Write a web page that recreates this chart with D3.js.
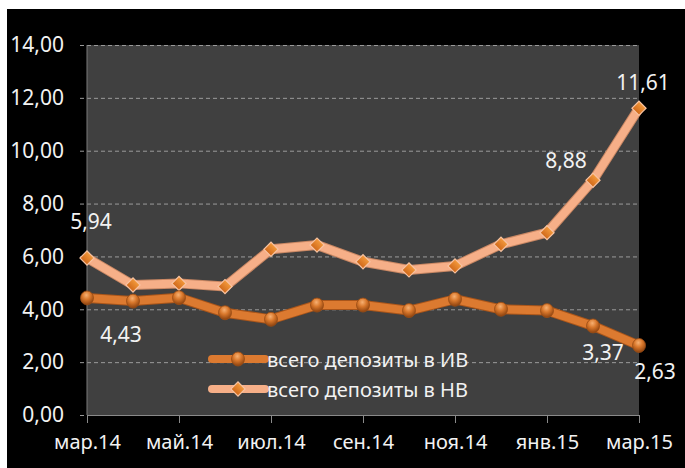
<!DOCTYPE html>
<html>
<head>
<meta charset="utf-8">
<script src="https://cdn.jsdelivr.net/npm/d3@7"></script>
<style>
  html, body { margin: 0; padding: 0; background: #fff; }
  svg { display: block; }
  text { font-family: 'Noto Sans', sans-serif; fill: #f2f2f2; }
</style>
</head>
<body>
<svg id="chart" width="685" height="468"></svg>
<script>
const months = ['мар.14', 'апр.14', 'май.14', 'июн.14', 'июл.14', 'авг.14', 'сен.14', 'окт.14', 'ноя.14', 'дек.14', 'янв.15', 'фев.15', 'мар.15']
const tickMonths = ['мар.14', 'май.14', 'июл.14', 'сен.14', 'ноя.14', 'янв.15', 'мар.15']
const yTicks = [0, 2, 4, 6, 8, 10, 12, 14]
const depositsIV = [4.43, 4.31, 4.44, 3.87, 3.62, 4.16, 4.16, 3.95, 4.38, 4.00, 3.95, 3.37, 2.63]
const depositsNV = [5.94, 4.92, 4.98, 4.86, 6.27, 6.43, 5.80, 5.49, 5.64, 6.46, 6.90, 8.88, 11.61]
const seriesNames = ['всего депозиты в ИВ', 'всего депозиты в НВ']
const labelledIndexes = [0, 11, 12]

const fmt = (v) => v.toFixed(2).replace('.', ',')

const svg = d3.select('#chart')
const plot = { left: 87, right: 639, top: 45, bottom: 415 }

// white strip top/left, black chart area
svg.append('rect').attr('x', 7).attr('y', 9).attr('width', 678).attr('height', 459).attr('fill', '#000')

const x = d3.scalePoint().domain(months).range([plot.left, plot.right])
const y = d3.scaleLinear().domain([0, 14]).range([plot.bottom, plot.top])

svg.append('rect')
  .attr('x', plot.left).attr('y', plot.top)
  .attr('width', plot.right - plot.left).attr('height', plot.bottom - plot.top)
  .attr('fill', '#404040')

// grid lines + y labels
const yG = svg.append('g')
  .attr('transform', `translate(${plot.left - 7},0)`)
  .call(d3.axisRight(y).tickValues(yTicks).tickSize(plot.right - plot.left + 7).tickFormat(fmt))
yG.select('.domain').remove()
yG.selectAll('line')
  .attr('stroke', '#9a9a9a')
  .attr('stroke-dasharray', '4,3')
  .attr('stroke-width', 1)
yG.selectAll('text')
  .attr('x', -16)
  .attr('text-anchor', 'end')
  .attr('font-size', 21)
  .attr('fill', '#f2f2f2')

// y axis line
svg.append('line')
  .attr('x1', plot.left).attr('x2', plot.left)
  .attr('y1', plot.top).attr('y2', plot.bottom)
  .attr('stroke', '#7a7a7a')

// x axis
const xG = svg.append('g')
  .attr('transform', `translate(0,${plot.bottom})`)
  .call(d3.axisBottom(x).tickValues(tickMonths).tickSize(8).tickPadding(12))
xG.select('.domain').attr('stroke', '#8a8a8a').attr('d', `M${plot.left},0.5H${plot.right}`)
xG.selectAll('line').attr('stroke', '#8a8a8a')
xG.selectAll('text').attr('font-size', 20).attr('fill', '#f2f2f2')

// gradients for markers
const defs = svg.append('defs')
const ball = defs.append('radialGradient').attr('id', 'ball')
  .attr('cx', '45%').attr('cy', '30%').attr('r', '70%')
ball.append('stop').attr('offset', '0%').attr('stop-color', '#f6b072')
ball.append('stop').attr('offset', '45%').attr('stop-color', '#d9782c')
ball.append('stop').attr('offset', '100%').attr('stop-color', '#8c420f')

const diamond = defs.append('linearGradient').attr('id', 'diamond')
  .attr('x1', '0').attr('y1', '0').attr('x2', '0').attr('y2', '1')
diamond.append('stop').attr('offset', '0%').attr('stop-color', '#f39a3c')
diamond.append('stop').attr('offset', '100%').attr('stop-color', '#d0681a')

const series = [
  { name: seriesNames[0], values: depositsIV, color: '#dc7a30', edge: '#a9551a', marker: 'circle' },
  { name: seriesNames[1], values: depositsNV, color: '#f6af88', edge: '#c98763', marker: 'diamond' }
]

const line = d3.line()
  .x((d, i) => x(months[i]))
  .y((d) => y(d))

function drawMarker (g, type) {
  if (type === 'circle') {
    g.append('ellipse').attr('rx', 6.5).attr('ry', 7)
      .attr('fill', 'url(#ball)')
      .attr('stroke', '#9b4c14').attr('stroke-width', 0.8)
  } else {
    g.append('path')
      .attr('d', d3.symbol(d3.symbolSquare, 100)())
      .attr('transform', 'rotate(45)')
      .attr('fill', 'url(#diamond)')
      .attr('stroke', '#f7c3a2').attr('stroke-width', 1.2)
  }
}

series.slice().reverse().forEach((s) => {
  svg.append('path')
    .datum(s.values)
    .attr('d', line)
    .attr('fill', 'none')
    .attr('stroke', s.edge)
    .attr('stroke-width', 10)
    .attr('stroke-linejoin', 'round')
  svg.append('path')
    .datum(s.values)
    .attr('d', line)
    .attr('fill', 'none')
    .attr('stroke', s.color)
    .attr('stroke-width', 8)
    .attr('stroke-linejoin', 'round')

  svg.append('g').selectAll('g')
    .data(s.values)
    .join('g')
    .attr('transform', (d, i) => `translate(${x(months[i])},${y(d)})`)
    .each(function () { drawMarker(d3.select(this), s.marker) })
})

// data labels
const labelOffsets = {
  IV: { 0: [34, 36], 11: [10, 26], 12: [16, 26] },
  NV: { 0: [4, -37], 11: [-27, -20], 12: [4, -26] }
}
const labelData = []
labelledIndexes.forEach((i) => {
  labelData.push({ v: depositsIV[i], i, off: labelOffsets.IV[i] })
  labelData.push({ v: depositsNV[i], i, off: labelOffsets.NV[i] })
})
svg.append('g').selectAll('text')
  .data(labelData)
  .join('text')
  .attr('x', (d) => x(months[d.i]) + d.off[0])
  .attr('y', (d) => y(d.v) + d.off[1])
  .attr('text-anchor', 'middle')
  .attr('dominant-baseline', 'central')
  .attr('font-size', 21)
  .text((d) => fmt(d.v))

// legend
const legend = svg.append('g').attr('transform', 'translate(212,359)')
const items = legend.selectAll('g')
  .data(series)
  .join('g')
  .attr('transform', (d, i) => `translate(0,${i * 30})`)
items.append('line')
  .attr('x1', 0).attr('x2', 53)
  .attr('stroke', (d) => d.color)
  .attr('stroke-width', 8)
  .attr('stroke-linecap', 'round')
items.append('g')
  .attr('transform', 'translate(26,0)')
  .each(function (d) { drawMarker(d3.select(this), d.marker) })
items.append('text')
  .attr('x', 55)
  .attr('dominant-baseline', 'central')
  .attr('font-size', 20)
  .text((d) => d.name)
</script>
</body>
</html>
